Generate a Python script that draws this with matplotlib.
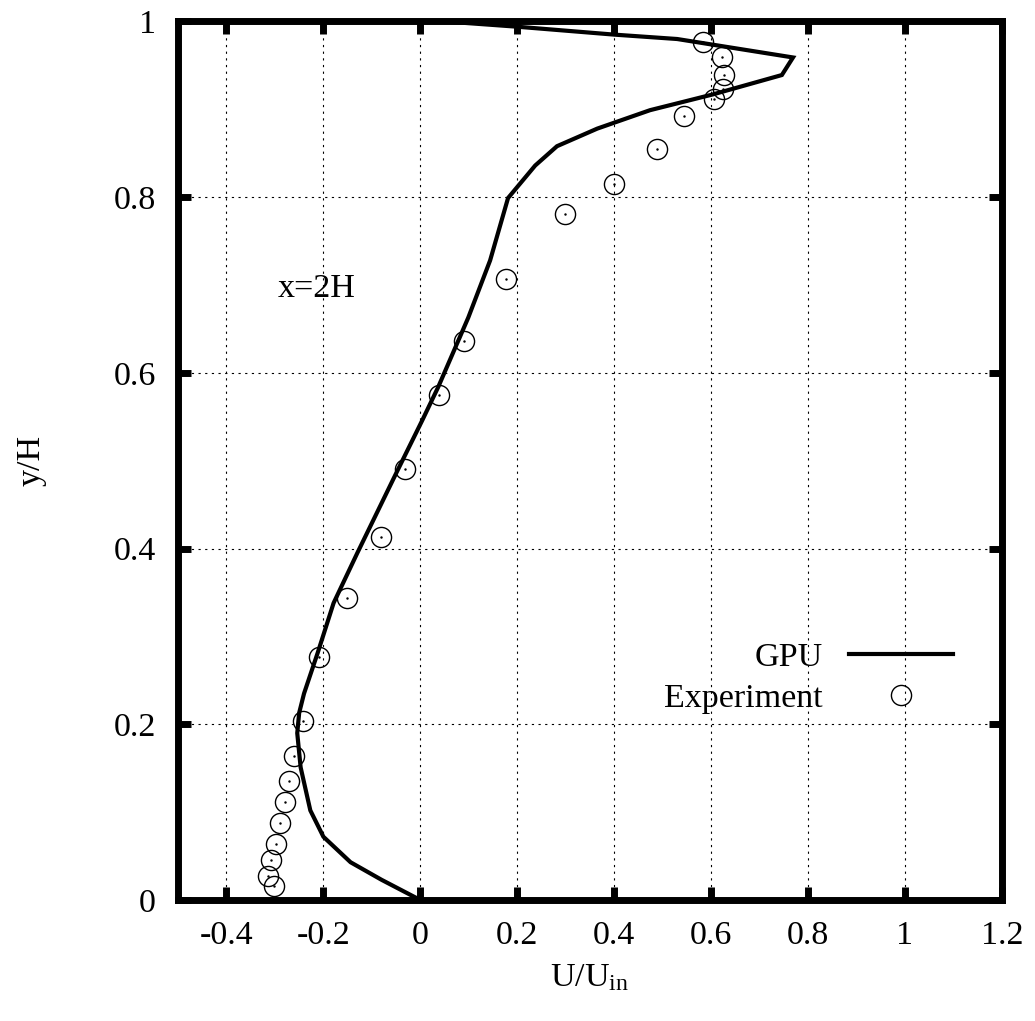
import matplotlib
matplotlib.use('Agg')
import matplotlib.pyplot as plt
import numpy as np

plt.rcParams['font.family'] = ['Liberation Serif', 'DejaVu Serif']
plt.rcParams['mathtext.fontset'] = 'custom'
plt.rcParams['mathtext.rm'] = 'Liberation Serif'
plt.rcParams['mathtext.it'] = 'Liberation Serif:italic'

# GPU profile (U/Uin, y/H)
gpu_u = [0.0, -0.08, -0.144, -0.2, -0.227, -0.247, -0.254, -0.25, -0.24, -0.212,
         -0.179, -0.13, -0.047, 0.004, 0.037, 0.099, 0.144, 0.181, 0.237, 0.282,
         0.365, 0.474, 0.604, 0.746, 0.769, 0.53, 0.4, 0.2, 0.05]
gpu_y = [0.0, 0.023, 0.043, 0.072, 0.102, 0.151, 0.19, 0.213, 0.235, 0.281,
         0.338, 0.395, 0.489, 0.546, 0.584, 0.663, 0.728, 0.799, 0.836, 0.858,
         0.878, 0.899, 0.917, 0.939, 0.959, 0.98, 0.985, 0.994, 1.0]

# Experiment
exp_u = [-0.302, -0.315, -0.309, -0.298, -0.289, -0.28, -0.272, -0.26, -0.242,
         -0.21, -0.152, -0.082, -0.032, 0.039, 0.091, 0.177, 0.298, 0.399,
         0.489, 0.544, 0.607, 0.625, 0.627, 0.622, 0.583]
exp_y = [0.016, 0.027, 0.045, 0.064, 0.088, 0.111, 0.136, 0.164, 0.204,
         0.277, 0.344, 0.413, 0.491, 0.575, 0.636, 0.707, 0.781, 0.815,
         0.855, 0.892, 0.912, 0.923, 0.939, 0.959, 0.977]

xticks = [-0.4, -0.2, 0, 0.2, 0.4, 0.6, 0.8, 1, 1.2]
xtick_labels = ['-0.4', '-0.2', '0', '0.2', '0.4', '0.6', '0.8', '1', '1.2']
yticks = [0, 0.2, 0.4, 0.6, 0.8, 1]
ytick_labels = ['0', '0.2', '0.4', '0.6', '0.8', '1']

fs = 24.5

fig = plt.figure(figsize=(10.35, 10.21), dpi=100)
ax = fig.add_axes([0.172, 0.1185, 0.796, 0.8605])

ax.plot(gpu_u, gpu_y, 'k-', lw=3, solid_joinstyle='miter', label='GPU', zorder=3)
ax.plot(exp_u, exp_y, 'o', mfc='none', mec='k', mew=1.0, ms=14.5, label='Experiment', zorder=4)
ax.plot(exp_u, exp_y, 'k.', ms=1.5, zorder=4)

ax.set_xlim(-0.5, 1.2)
ax.set_ylim(0, 1)
ax.set_xticks(xticks)
ax.set_xticklabels(xtick_labels)
ax.set_yticks(yticks)
ax.set_yticklabels(ytick_labels)

ax.grid(True, color='k', linestyle=(0, (2, 4)), linewidth=0.8)
for s in ax.spines.values():
    s.set_linewidth(5)
ax.tick_params(direction='in', length=9.5, width=5, labelsize=fs,
               top=True, right=True)
ax.tick_params(axis='x', pad=15)
ax.tick_params(axis='y', pad=16)

ax.set_xlabel(r'U/U$_{\mathrm{in}}$', fontsize=fs)
ax.set_ylabel('y/H', fontsize=fs)
ax.xaxis.set_label_coords(0.5, -0.071)
ax.yaxis.set_label_coords(-0.159, 0.5)

ax.text(-0.295, 0.686, 'x=2H', fontsize=fs)

ax.legend(loc='lower right', bbox_to_anchor=(0.9405, 0.212), markerfirst=False,
          frameon=False, fontsize=fs, handlelength=3.05, handletextpad=0.78,
          labelspacing=0.3, borderaxespad=0, borderpad=0)

fig.savefig('out.png', dpi=100)
